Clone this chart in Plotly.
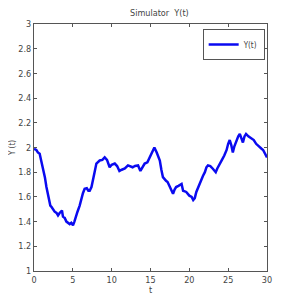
import plotly.graph_objects as go

t = [0.0, 0.3, 0.5, 0.73, 0.9, 1.16, 1.4, 1.6, 1.8, 1.93, 2.1, 2.24, 2.45, 2.66, 2.9, 3.09, 3.3, 3.52, 3.6, 3.73,
     3.95, 4.17, 4.4, 4.6, 4.8, 5.02, 5.2, 5.37, 5.6, 5.88, 6.1, 6.3, 6.52, 6.8, 7.0, 7.17, 7.4, 7.6, 7.8, 8.03,
     8.2, 8.46, 8.8, 9.1, 9.4, 9.6, 9.74, 10.0, 10.4, 10.7, 11.0, 11.3, 11.7, 12.1, 12.4, 12.7, 13.0, 13.4, 13.7,
     14.0, 14.25, 14.6, 14.9, 15.2, 15.5, 15.8, 16.0, 16.2, 16.4, 16.6, 17.0, 17.2, 17.5, 17.9, 18.1, 18.3, 18.6,
     19.0, 19.2, 19.6, 20.0, 20.3, 20.5, 20.7, 20.9, 21.3, 21.75, 22.0, 22.2, 22.4, 22.7, 23.0, 23.4, 23.6, 23.9,
     24.2, 24.5, 24.8, 25.0, 25.2, 25.4, 25.6, 25.8, 26.05, 26.3, 26.5, 26.7, 26.9, 27.1, 27.3, 27.6, 28.0, 28.3,
     28.6, 28.9, 29.3, 29.5, 29.7, 30.0]
y = [1.99, 1.98, 1.96, 1.95, 1.90, 1.83, 1.76, 1.68, 1.62, 1.56, 1.53, 1.52, 1.50, 1.48, 1.47, 1.45, 1.47, 1.48, 1.49, 1.44,
     1.43, 1.40, 1.39, 1.38, 1.39, 1.37, 1.40, 1.44, 1.48, 1.53, 1.585, 1.63, 1.665, 1.67, 1.65, 1.65, 1.68, 1.73, 1.80, 1.87,
     1.88, 1.895, 1.90, 1.92, 1.90, 1.86, 1.84, 1.86, 1.87, 1.85, 1.81, 1.82, 1.83, 1.855, 1.85, 1.84, 1.85, 1.855, 1.81,
     1.84, 1.87, 1.88, 1.92, 1.96, 2.00, 1.96, 1.93, 1.895, 1.82, 1.76, 1.73, 1.72, 1.68, 1.625, 1.66, 1.68, 1.69,
     1.705, 1.65, 1.64, 1.61, 1.60, 1.575, 1.59, 1.64, 1.705, 1.77, 1.80, 1.84, 1.855, 1.85, 1.83, 1.80, 1.83, 1.87,
     1.90, 1.935, 1.98, 2.03, 2.06, 2.02, 1.96, 2.01, 2.06, 2.09, 2.11, 2.08, 2.04, 2.09, 2.11, 2.09, 2.07, 2.06,
     2.03, 2.01, 1.99, 1.98, 1.96, 1.92]

FONT = "Liberation Sans Narrow, DejaVu Sans Condensed, sans-serif"
TXT = "#444444"

fig = go.Figure()
fig.add_trace(go.Scatter(x=t, y=y, mode="lines", name="Y(t)",
                         line=dict(color="#0a0af0", width=2.5)))

axis_common = dict(showgrid=False, zeroline=False, showline=True, linecolor="#555555", linewidth=1,
                   mirror="ticks", ticks="inside", ticklen=3, tickcolor="#555555", automargin=False,
                   tickfont=dict(family=FONT, size=9, color=TXT))

fig.update_layout(
    width=283, height=297,
    margin=dict(l=26, r=24, t=16, b=34),
    paper_bgcolor="white", plot_bgcolor="white",
    title=dict(text="Simulator  Y(t)", x=0.535, xanchor="center", y=0.983, yanchor="middle",
               font=dict(family=FONT, size=9, color=TXT), automargin=False),
    xaxis=dict(range=[0, 30], tickvals=[0, 5, 10, 15, 20, 25, 30],
               title=dict(text="t", font=dict(family=FONT, size=9, color=TXT), standoff=0),
               **axis_common),
    yaxis=dict(range=[1, 3], tickvals=[1, 1.2, 1.4, 1.6, 1.8, 2, 2.2, 2.4, 2.6, 2.8, 3],
               ticktext=["1", "1.2", "1.4", "1.6", "1.8", "2", "2.2", "2.4", "2.6", "2.8", "3"],
               title=dict(text="Y (t)", font=dict(family=FONT, size=8, color=TXT), standoff=4),
               **axis_common),
    showlegend=True,
    legend=dict(x=0.99, y=0.98, xanchor="right", yanchor="top", bgcolor="white",
                bordercolor="#555555", borderwidth=1,
                font=dict(family=FONT, size=8, color=TXT),
                itemwidth=30, tracegroupgap=0),
)

fig.write_html("out.html")
